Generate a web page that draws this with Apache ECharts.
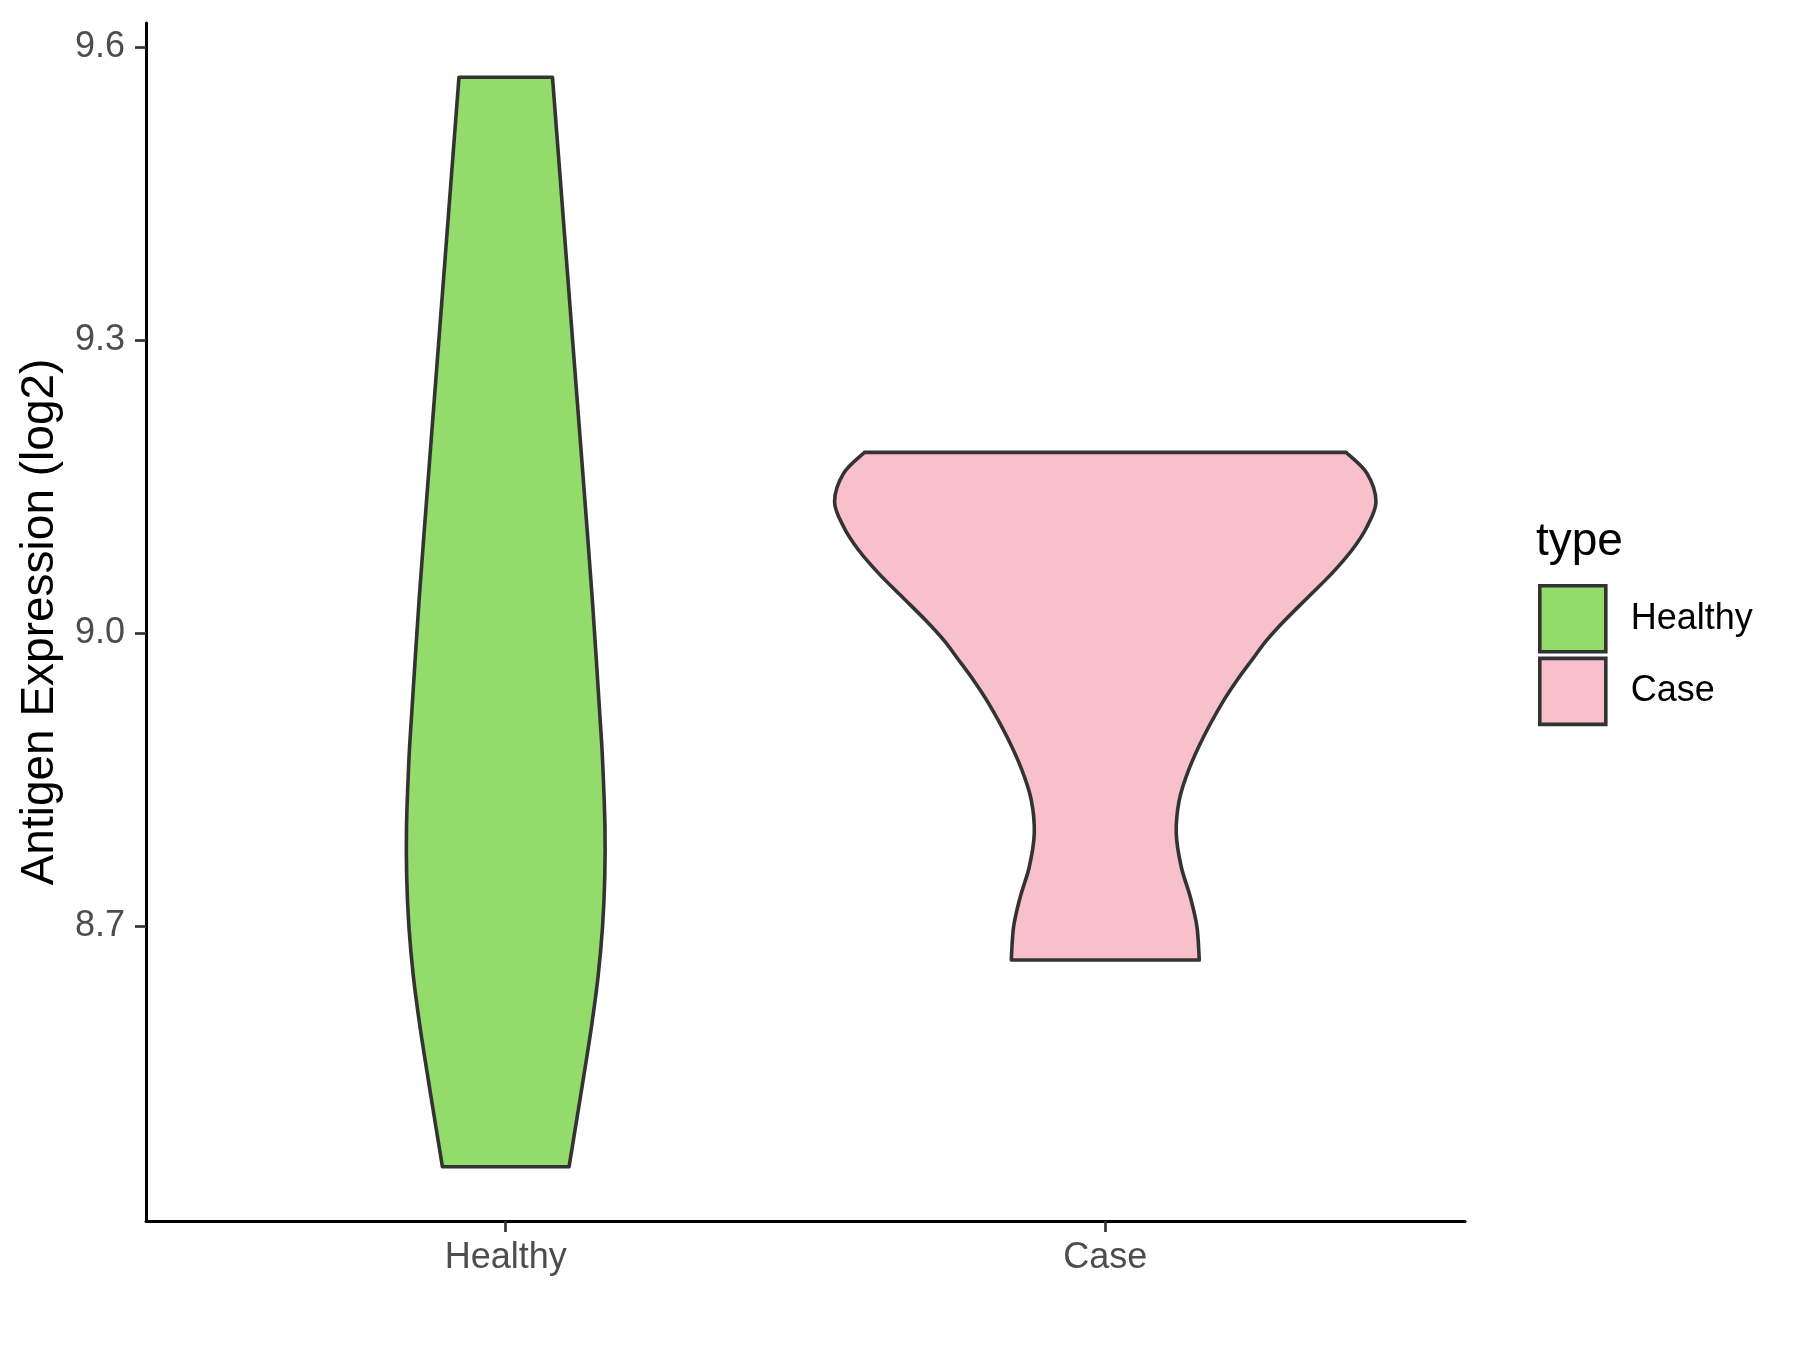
<!DOCTYPE html>
<html>
<head>
<meta charset="utf-8">
<script src="https://cdn.jsdelivr.net/npm/echarts@6/dist/echarts.min.js"></script>
<style>html,body{margin:0;padding:0;background:#ffffff}#chart{width:1800px;height:1350px}</style>
</head>
<body>
<div id="chart"></div>
<script>
// ---------- data ----------
const categories = ['Healthy', 'Case'];
const categoryPositions = [1, 2];
const yTicks = [8.7, 9.0, 9.3, 9.6];

// violin outlines: expression value (log2) and half width (x-axis units)
const healthyY = [8.4536, 8.4945, 8.5458, 8.597, 8.6481, 8.6993, 8.7505, 8.8017, 8.870, 8.911, 9.0338, 9.1362, 9.2386, 9.341, 9.46, 9.569];
const healthyHalfWidth = [0.1056, 0.1165, 0.1300, 0.1430, 0.1540, 0.1615, 0.1652, 0.1655, 0.1615, 0.1575, 0.1445, 0.1320, 0.1192, 0.1064, 0.0916, 0.078];

const caseY = [8.6652, 8.6993, 8.73, 8.7607, 8.7949, 8.829, 8.8597, 8.8938, 8.928, 8.9519, 8.9724, 8.9929, 9.0133, 9.0372, 9.0611, 9.085, 9.1089, 9.1345, 9.1635, 9.185];
const caseHalfWidth = [0.1568, 0.1529, 0.1417, 0.1267, 0.1184, 0.1234, 0.139, 0.164, 0.1946, 0.220, 0.2446, 0.2697, 0.300, 0.339, 0.378, 0.4115, 0.4365, 0.4515, 0.4365, 0.4015];

const colors = {Healthy: '#93DC6B', Case: '#F7C0CB'};
const FONT = '"Liberation Sans", Arial, sans-serif';

// ---------- drawing helpers ----------
function catmull(pts) {
  let d = '';
  for (let i = 0; i < pts.length - 1; i++) {
    const p0 = pts[Math.max(0, i - 1)], p1 = pts[i], p2 = pts[i + 1], p3 = pts[Math.min(pts.length - 1, i + 2)];
    const c1 = [p1[0] + (p2[0] - p0[0]) / 6, p1[1] + (p2[1] - p0[1]) / 6];
    const c2 = [p2[0] - (p3[0] - p1[0]) / 6, p2[1] - (p3[1] - p1[1]) / 6];
    d += ' C' + c1[0] + ' ' + c1[1] + ' ' + c2[0] + ' ' + c2[1] + ' ' + p2[0] + ' ' + p2[1];
  }
  return d;
}

function makeViolin(ys, hws, color) {
  return function (params, api) {
    const cx = api.value(0);
    const left = ys.map((y, i) => api.coord([cx - hws[i], y]));
    const right = ys.map((y, i) => api.coord([cx + hws[i], y])).reverse();
    let d = 'M' + left[0][0] + ' ' + left[0][1] + catmull(left);
    d += ' L' + right[0][0] + ' ' + right[0][1] + catmull(right) + ' Z';
    return {
      type: 'path',
      shape: {pathData: d},
      style: {fill: color, stroke: '#333333', lineWidth: 3.6, lineJoin: 'round'}
    };
  };
}

const chart = echarts.init(document.getElementById('chart'), null, {renderer: 'canvas'});

const option = {
  animation: false,
  backgroundColor: '#ffffff',
  grid: {left: 146, right: 335, top: 23, bottom: 129, containLabel: false, outerBoundsMode: 'none'},
  xAxis: {
    type: 'value', min: 0.4, max: 2.6,
    splitLine: {show: false},
    axisLine: {show: true, onZero: false, lineStyle: {color: '#000000', width: 3}},
    axisTick: {show: true, customValues: categoryPositions, length: 11, lineStyle: {color: '#333333', width: 2.7}},
    axisLabel: {
      show: true, customValues: categoryPositions, margin: 19,
      formatter: v => categories[categoryPositions.indexOf(Math.round(v))] || '',
      fontSize: 36, color: '#4D4D4D', fontFamily: FONT
    }
  },
  yAxis: {
    type: 'value', min: 8.398, max: 9.6246,
    splitLine: {show: false},
    axisLine: {show: true, onZero: false, lineStyle: {color: '#000000', width: 3}},
    axisTick: {show: true, customValues: yTicks, length: 11, lineStyle: {color: '#333333', width: 2.7}},
    axisLabel: {
      show: true, customValues: yTicks, margin: 21,
      formatter: v => Number(v).toFixed(1),
      fontSize: 36, color: '#4D4D4D', fontFamily: FONT
    },
    name: 'Antigen Expression (log2)',
    nameLocation: 'middle', nameGap: 83,
    nameTextStyle: {fontSize: 46, color: '#000000', fontFamily: FONT}
  },
  legend: {
    orient: 'vertical', left: 1538, top: 584, padding: 0,
    itemWidth: 66, itemHeight: 66, itemGap: 3,
    icon: 'rect',
    itemStyle: {borderColor: '#333333', borderWidth: 3.6},
    textStyle: {fontSize: 36, color: '#000000', fontFamily: FONT, padding: [0, 0, 0, 20]},
    data: [
      {name: 'Healthy', itemStyle: {color: colors.Healthy}},
      {name: 'Case', itemStyle: {color: colors.Case}}
    ]
  },
  graphic: [{
    type: 'text', left: 1536, top: 519,
    style: {text: 'type', fontSize: 46, fill: '#000000', fontFamily: FONT}
  }],
  series: [
    {
      name: 'Healthy', type: 'custom',
      itemStyle: {color: colors.Healthy},
      encode: {x: 0, y: 1},
      data: [[categoryPositions[0], healthyY[0]]],
      renderItem: makeViolin(healthyY, healthyHalfWidth, colors.Healthy)
    },
    {
      name: 'Case', type: 'custom',
      itemStyle: {color: colors.Case},
      encode: {x: 0, y: 1},
      data: [[categoryPositions[1], caseY[0]]],
      renderItem: makeViolin(caseY, caseHalfWidth, colors.Case)
    }
  ]
};
chart.setOption(option);
</script>
</body>
</html>
